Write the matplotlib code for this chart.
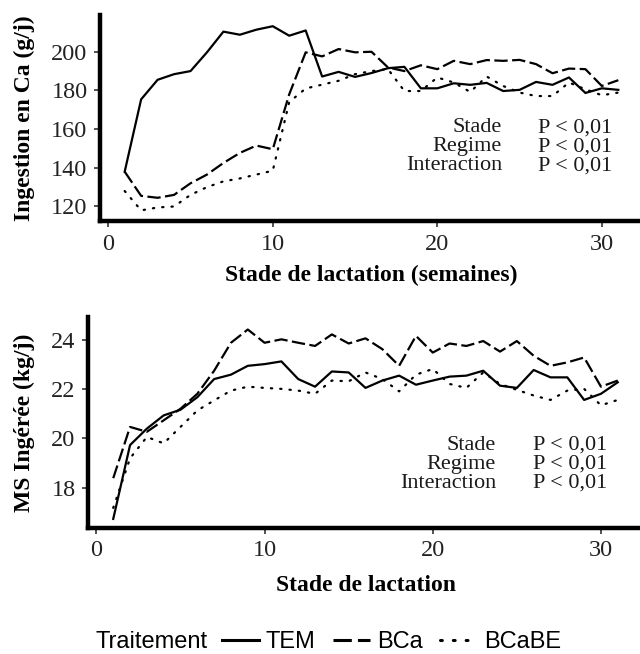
import numpy as np
import matplotlib
matplotlib.use("Agg")
from matplotlib import pyplot as plt
from matplotlib.lines import Line2D

# weeks of lactation
weeks = list(range(1, 32))

# Ca intake (g/j)
ca_tem = [138, 175.4, 185.5, 188.4, 190, 199.7, 210.4, 208.8, 211.4, 213.2, 208.3,
          211, 187.2, 189.6, 187, 189, 191.5, 192.2, 181.1, 181.1, 183.7, 182.9,
          183.9, 179.7, 180.3, 184.4, 182.9, 186.7, 178.7, 181.1, 180.3]
ca_bca = [138, 125.5, 124.5, 126, 132, 136.5, 142.5, 147.7, 151.5, 149.6, 178,
          199.7, 197.6, 201.4, 199.7, 200, 191.9, 190, 193, 191, 195.3, 193.6,
          195.7, 195.3, 195.8, 193.6, 188.9, 191.3, 191, 182.3, 185.3]
ca_bcabe = [128, 118, 119.5, 120, 126, 130, 133, 134.5, 136.5, 138.5, 174, 181,
            183, 185, 188.4, 190, 191, 179.7, 179.7, 186.7, 184.1, 179.2, 187.2,
            182.3, 178.9, 177.1, 177.1, 184.1, 180.6, 177.5, 178.9]

# dry matter intake (kg/j)
ms_tem = [16.72, 19.73, 20.4, 20.94, 21.17, 21.68, 22.42, 22.6, 22.96, 23.03, 23.14,
          22.42, 22.11, 22.73, 22.69, 22.06, 22.36, 22.56, 22.19, 22.36, 22.52,
          22.56, 22.76, 22.15, 22.06, 22.79, 22.49, 22.49, 21.57, 21.82, 22.29]
ms_bca = [18.38, 20.47, 20.27, 20.74, 21.21, 21.82, 22.76, 23.9, 24.44, 23.9, 24.04,
          23.9, 23.77, 24.24, 23.87, 24.08, 23.64, 22.96, 24.18, 23.5, 23.87, 23.77,
          23.97, 23.54, 23.97, 23.37, 22.96, 23.1, 23.3, 22.11, 22.36]
ms_bcabe = [17.17, 19.19, 20.06, 19.8, 20.47, 21.14, 21.55, 21.95, 22.11, 22.06,
            22.02, 21.95, 21.82, 22.36, 22.33, 22.69, 22.42, 21.92, 22.6, 22.83,
            22.22, 22.06, 22.69, 22.22, 21.98, 21.75, 21.57, 21.95, 22.02, 21.35, 21.57]

treatments = ["TEM", "BCa", "BCaBE"]
effects = ["Stade", "Regime", "Interaction"]
pvals = ["P < 0,01", "P < 0,01", "P < 0,01"]

styles = {"TEM": "-", "BCa": (0, (6, 2)), "BCaBE": (0, (0.6, 3.6))}

SERIF = "Liberation Serif"
SANS = "Liberation Sans"
W, H = 640, 654


def fx(px):
	return px / W


def fy(py):
	return 1 - py / H


def style_axes(ax, xlabel, ylabel, yticks):
	for s in ["top", "right"]:
		ax.spines[s].set_visible(False)
	for s in ["left", "bottom"]:
		ax.spines[s].set_linewidth(3.2)
		ax.spines[s].set_capstyle("projecting")
	ax.set_xlim(-0.5, 32.5)
	ax.set_xticks([0, 10, 20, 30])
	ax.set_yticks(yticks)
	ax.tick_params(length=4, width=1.2, color="#333333", labelcolor="#222222",
				   labelsize=17.5, pad=5)
	for lab in ax.get_xticklabels() + ax.get_yticklabels():
		lab.set_fontfamily(SERIF)
	ax.set_xlabel(xlabel, fontfamily=SERIF, fontweight="bold", fontsize=17)
	ax.set_ylabel(ylabel, fontfamily=SERIF, fontweight="bold", fontsize=17)


def draw(ax, series):
	for name, vals in zip(treatments, series):
		ax.plot(weeks, vals, color="black", linestyle=styles[name], linewidth=1.6,
				dash_capstyle="round" if name == "BCaBE" else "butt")


fig = plt.figure(figsize=(6.4, 6.54), dpi=100)

ax1 = fig.add_axes([fx(100), fy(221), fx(643 - 100), fy(15) - fy(221)])
draw(ax1, [ca_tem, ca_bca, ca_bcabe])
ax1.set_ylim(112.5, 219)
style_axes(ax1, "Stade de lactation (semaines)", "Ingestion en Ca (g/j)",
		   [120, 140, 160, 180, 200])
ax1.xaxis.set_label_coords(0.5, -0.212)
ax1.yaxis.set_label_coords((35 - 100) / 543, 0.5)

ax2 = fig.add_axes([fx(88), fy(528), fx(643 - 88), fy(317) - fy(528)])
draw(ax2, [ms_tem, ms_bca, ms_bcabe])
ax2.set_ylim(16.35, 24.95)
style_axes(ax2, "Stade de lactation", "MS Ingérée (kg/j)", [18, 20, 22, 24])
ax2.xaxis.set_label_coords(0.5, -0.222)
ax2.yaxis.set_label_coords((35 - 88) / 555, 0.5)

# statistics annotations
for ys, xl, xp in [([128, 147, 166], 502, 612), ([445, 464, 483], 496, 607)]:
	for y, eff, p in zip(ys, effects, pvals):
		fig.text(fx(xl), fy(y), eff, ha="right", va="center", fontfamily=SERIF,
				 fontsize=16, color="#1a1a1a")
		fig.text(fx(xp), fy(y), p, ha="right", va="center", fontfamily=SERIF,
				 fontsize=16, color="#1a1a1a")

# legend
fig.text(fx(95), fy(642), "Traitement", ha="left", va="center", fontfamily=SANS,
		 fontsize=17)
handles = [Line2D([], [], color="black", linestyle=styles[n], linewidth=2.2,
				  dash_capstyle="round" if n == "BCaBE" else "butt") for n in treatments]
fig.legend(handles, treatments, loc="center left", bbox_to_anchor=(fx(222), fy(642)),
		   ncol=3, frameon=False, handlelength=1.55, handletextpad=0.3,
		   columnspacing=0.75, prop={"family": SANS, "size": 17},
		   borderpad=0, borderaxespad=0)

fig.savefig("out.png", dpi=100)
